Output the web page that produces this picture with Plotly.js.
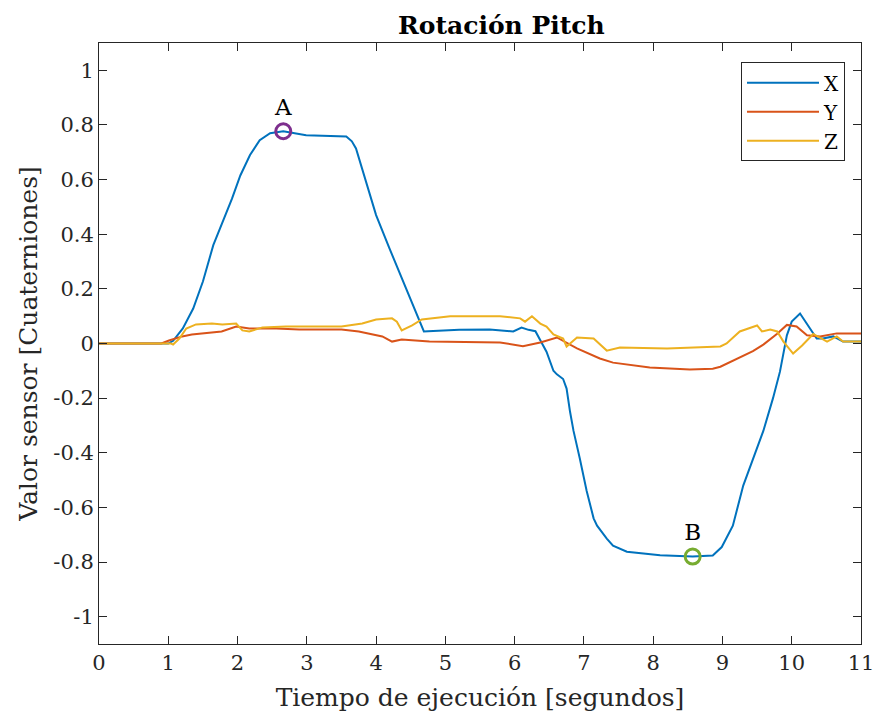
<!DOCTYPE html>
<html><head><meta charset="utf-8">
<script src="https://cdn.plot.ly/plotly-3.0.1.min.js"></script>
<style>html,body{margin:0;padding:0;background:#fff}</style>
</head><body>
<div id="chart" style="width:878px;height:723px"></div>
<script>
const seriesNames = ["X", "Y", "Z"];
const seriesColors = ["#0072BD", "#D95319", "#EDB120"];

const tX = [0,1.0,1.07,1.21,1.36,1.5,1.65,1.79,1.92,2.04,2.18,2.32,2.47,2.66,2.8,2.99,3.57,3.65,3.71,3.85,4.0,4.19,4.37,4.58,4.69,4.75,5.2,5.64,5.98,6.1,6.2,6.3,6.41,6.46,6.56,6.61,6.7,6.75,6.8,6.85,6.94,7.04,7.14,7.19,7.33,7.42,7.62,8.1,8.57,8.86,8.99,9.15,9.3,9.44,9.59,9.73,9.83,9.93,10.0,10.12,10.22,10.36,10.45,10.6,10.74,11.0];
const vX = [0,0,0.01,0.055,0.128,0.227,0.36,0.447,0.53,0.615,0.69,0.744,0.77,0.777,0.77,0.762,0.758,0.74,0.714,0.60,0.47,0.35,0.24,0.117,0.044,0.045,0.05,0.051,0.044,0.058,0.05,0.045,-0.006,-0.03,-0.10,-0.113,-0.13,-0.165,-0.25,-0.32,-0.42,-0.54,-0.64,-0.667,-0.714,-0.74,-0.762,-0.775,-0.78,-0.776,-0.745,-0.667,-0.52,-0.42,-0.32,-0.2,-0.103,0.03,0.08,0.11,0.073,0.018,0.018,0.026,0.007,0.007];

const tY = [0,0.9,1.01,1.2,1.34,1.77,1.98,2.17,2.56,2.89,3.5,3.75,4.09,4.23,4.37,4.77,5.79,6.12,6.37,6.61,6.9,7.23,7.42,7.95,8.53,8.86,8.97,9.25,9.44,9.59,9.79,9.93,10.07,10.22,10.41,10.65,11.0];
const vY = [0,0,0.011,0.026,0.033,0.044,0.062,0.055,0.055,0.051,0.051,0.044,0.026,0.007,0.015,0.007,0.004,-0.01,0.004,0.022,-0.018,-0.055,-0.07,-0.088,-0.095,-0.092,-0.085,-0.052,-0.028,-0.004,0.036,0.068,0.062,0.03,0.026,0.037,0.037];

const tZ = [0,1.04,1.07,1.16,1.26,1.4,1.63,1.78,1.98,2.07,2.17,2.36,2.7,3.5,3.8,4.0,4.23,4.3,4.37,4.52,4.66,5.07,5.79,6.08,6.15,6.25,6.37,6.46,6.56,6.7,6.75,6.9,7.14,7.33,7.52,8.2,8.97,9.06,9.25,9.5,9.57,9.69,9.79,9.88,10.02,10.15,10.31,10.51,10.65,10.74,11.0];
const vZ = [0,0,-0.004,0.018,0.055,0.07,0.073,0.07,0.073,0.048,0.044,0.059,0.062,0.062,0.073,0.088,0.092,0.08,0.048,0.066,0.088,0.1,0.1,0.092,0.08,0.1,0.073,0.062,0.033,0.018,-0.011,0.022,0.018,-0.026,-0.015,-0.018,-0.011,0.0,0.044,0.066,0.044,0.051,0.044,0.007,-0.037,-0.007,0.035,0.007,0.026,0.007,0.007];

const pointLabels = ["A", "B"];
const pointT = [2.66, 8.57];
const pointV = [0.777, -0.78];
const pointColors = ["#7E2F8E", "#77AC30"];

const xTicks = [0,1,2,3,4,5,6,7,8,9,10,11];
const yTicks = [-1,-0.8,-0.6,-0.4,-0.2,0,0.2,0.4,0.6,0.8,1];
const yTickText = ["-1","-0.8","-0.6","-0.4","-0.2","0","0.2","0.4","0.6","0.8","1"];

const FONT = "DejaVu Serif, Liberation Serif, serif";
const ts = [tX, tY, tZ], vs = [vX, vY, vZ];
const traces = seriesNames.map((n, i) => ({
  x: ts[i], y: vs[i], type: "scatter", mode: "lines", name: n,
  line: {color: seriesColors[i], width: 2}
}));
traces.push({
  x: pointT, y: pointV, type: "scatter", mode: "markers+text",
  text: pointLabels, textposition: "top center",
  textfont: {family: FONT, size: 23, color: "#000"},
  marker: {symbol: "circle-open", size: 15, color: pointColors, line: {width: 3, color: pointColors}},
  showlegend: false, hoverinfo: "skip", cliponaxis: false
});

const axisCommon = {
  showline: true, linecolor: "#262626", linewidth: 1, mirror: "ticks",
  ticks: "inside", ticklen: 8, tickcolor: "#262626", showgrid: false, zeroline: false,
  tickfont: {family: FONT, size: 21, color: "#262626"}
};
const layout = {
  width: 878, height: 723,
  margin: {l: 99, r: 17, t: 43, b: 79},
  paper_bgcolor: "#fff", plot_bgcolor: "#fff",
  title: {text: "<b>Rotación Pitch</b>", font: {family: FONT, size: 25, color: "#000"}, x: 0.571, xanchor: "center", y: 0.965, yanchor: "middle"},
  xaxis: Object.assign({}, axisCommon, {range: [0, 11], tickvals: xTicks, ticktext: xTicks.map(String),
    title: {text: "Tiempo de ejecución [segundos]", font: {family: FONT, size: 25, color: "#262626"}, standoff: 14}}),
  yaxis: Object.assign({}, axisCommon, {range: [-1.1, 1.1], tickvals: yTicks, ticktext: yTickText,
    title: {text: "Valor sensor [Cuaterniones]", font: {family: FONT, size: 25, color: "#262626"}, standoff: 8}}),
  legend: {x: 0.979, y: 0.968, xanchor: "right", yanchor: "top", bgcolor: "#fff",
    bordercolor: "#262626", borderwidth: 1, font: {family: FONT, size: 20, color: "#000"},
    tracegroupgap: 0, itemwidth: 72},
  showlegend: true
};
Plotly.newPlot("chart", traces, layout, {displayModeBar: false, staticPlot: true});
</script>
</body></html>
